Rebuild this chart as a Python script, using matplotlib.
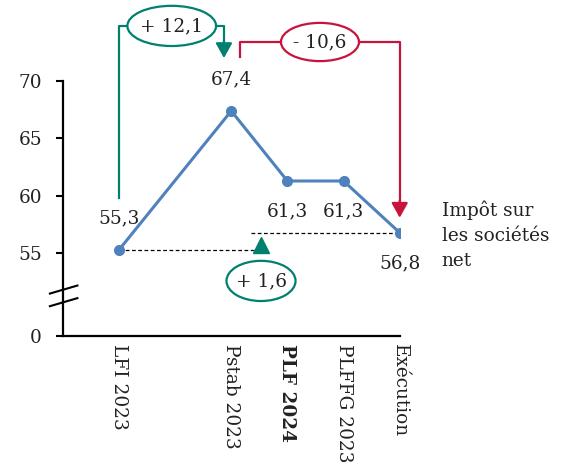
import matplotlib.pyplot as plt
from matplotlib.patches import Ellipse

plt.rcParams['font.family'] = ['DejaVu Serif']

categories = ['LFI 2023', 'Pstab 2023', 'PLF 2024', 'PLFFG 2023', 'Exécution']
positions = [0, 2, 3, 4, 5]
values = [55.3, 67.4, 61.3, 61.3, 56.8]
value_labels = ['55,3', '67,4', '61,3', '61,3', '56,8']
ytick_values = [0, 55, 60, 65, 70]
series_name = 'Impôt sur\nles sociétés\nnet'
delta_up = '+ 12,1'
delta_down = '- 10,6'
delta_total = '+ 1,6'

BLUE = '#4F81BD'
GREEN = '#00806E'
RED = '#C8143C'
TXT = '#222222'
FS = 13.3

# broken axis: 0 is drawn a bit below 55
ZERO_POS = 47.8


def ymap(v):
    return ZERO_POS if v == 0 else v


fig = plt.figure(figsize=(5.71, 4.74), dpi=100)
ax = fig.add_axes([0.110, 0.291, 0.590, 0.538])

ax.plot(positions, values, color=BLUE, lw=2.2, marker='o', ms=7, zorder=3)

for x, v, lab in zip(positions, values, value_labels):
    dy = 23 if x in (0, 2) else -22
    ax.annotate(lab, (x, v), xytext=(0, dy), textcoords='offset points',
                ha='center', va='center', fontsize=FS, color=TXT)

ax.set_xlim(-1, 5)
ax.set_ylim(ZERO_POS, 70)
ax.set_yticks([ymap(v) for v in ytick_values])
ax.set_yticklabels([str(v) for v in ytick_values])
ax.set_xticks(positions)
ax.set_xticklabels(categories, rotation=270, va='top', ha='center')
ax.get_xticklabels()[2].set_fontweight('bold')
ax.tick_params(axis='x', length=0, pad=6, labelsize=FS, labelcolor=TXT)
ax.tick_params(axis='y', length=5, width=1.5, pad=10, labelsize=FS, labelcolor=TXT)
for s in ['top', 'right']:
    ax.spines[s].set_visible(False)
for s in ['left', 'bottom']:
    ax.spines[s].set_linewidth(1.6)

# break marks on the y axis
for y0 in (51.5, 50.4):
    ax.plot([-1.23, -0.74], [y0, y0 + 0.7], color='black', lw=1.5, clip_on=False, zorder=5)

# series name
ax.text(5.75, 56.6, series_name, ha='left', va='center', fontsize=FS,
        linespacing=1.5, color=TXT, clip_on=False)

# green bracket: LFI -> Pstab
top_g = 74.8
ax.plot([0, 0, 0.15], [59.8, top_g, top_g], color=GREEN, lw=1.6, clip_on=False)
ax.plot([1.73, 1.87, 1.87], [top_g, top_g, 73.3], color=GREEN, lw=1.6, clip_on=False)
ax.annotate('', xy=(1.87, 72.0), xytext=(1.87, 73.5),
            arrowprops=dict(arrowstyle='-|>,head_length=0.9,head_width=0.5', color=GREEN,
                            lw=1.6, shrinkA=0, shrinkB=0, mutation_scale=10),
            annotation_clip=False)
ax.add_patch(Ellipse((0.94, top_g), 1.58, 3.5, fill=False, ec=GREEN, lw=1.6, clip_on=False))
ax.text(0.94, top_g, delta_up, ha='center', va='center', fontsize=FS, color=TXT, clip_on=False)

# red bracket: Pstab -> Exécution
top_r = 73.4
ax.plot([2.15, 2.15, 2.89], [72.1, top_r, top_r], color=RED, lw=1.6, clip_on=False)
ax.plot([4.28, 5.0, 5.0], [top_r, top_r, 59.5], color=RED, lw=1.6, clip_on=False)
ax.annotate('', xy=(5.0, 58.1), xytext=(5.0, 59.6),
            arrowprops=dict(arrowstyle='-|>,head_length=0.9,head_width=0.5', color=RED,
                            lw=1.6, shrinkA=0, shrinkB=0, mutation_scale=10),
            annotation_clip=False)
ax.add_patch(Ellipse((3.58, top_r), 1.39, 3.33, fill=False, ec=RED, lw=1.6, clip_on=False))
ax.text(3.58, top_r, delta_down, ha='center', va='center', fontsize=FS, color=TXT, clip_on=False)

# net change: dashed guides and small arrow
ax.plot([0, 2.53], [values[0], values[0]], color='black', lw=0.9, ls=(0, (3, 2)), zorder=2)
ax.plot([2.35, 5], [values[-1], values[-1]], color='black', lw=0.9, ls=(0, (3, 2)), zorder=2)
ax.plot([2.53], [55.75], marker='^', ms=11, color=GREEN, zorder=4)
ax.add_patch(Ellipse((2.53, 52.6), 1.23, 3.5, fill=False, ec=GREEN, lw=1.6, clip_on=False))
ax.text(2.53, 52.6, delta_total, ha='center', va='center', fontsize=FS, color=TXT, clip_on=False)

fig.savefig('out.png', dpi=100)
